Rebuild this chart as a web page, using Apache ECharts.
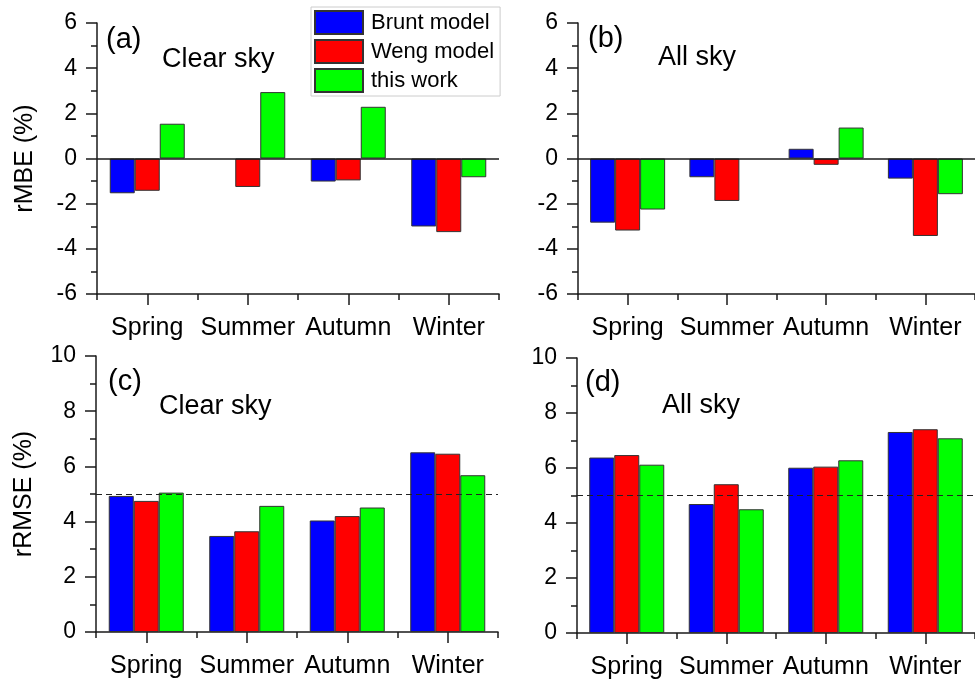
<!DOCTYPE html>
<html>
<head>
<meta charset="utf-8">
<script src="https://cdn.jsdelivr.net/npm/echarts@6/dist/echarts.min.js"></script>
<style>
html,body{margin:0;padding:0;background:#fff;}
#chart{width:975px;height:681px;}
</style>
</head>
<body>
<div id="chart"></div>
<script>
const categories = ['Spring', 'Summer', 'Autumn', 'Winter'];
const seriesNames = ['Brunt model', 'Weng model', 'this work'];
const seriesColors = ['#0000FF', '#FF0000', '#00FF00'];

// (a) rMBE, clear sky
const mbeClearBrunt = [-1.54, null, -1.02, -3.01];
const mbeClearWeng  = [-1.43, -1.26, -0.97, -3.26];
const mbeClearThis  = [1.54, 2.94, 2.29, -0.83];
// (b) rMBE, all sky
const mbeAllBrunt = [-2.84, -0.83, 0.43, -0.89];
const mbeAllWeng  = [-3.19, -1.88, -0.28, -3.43];
const mbeAllThis  = [-2.26, null, 1.37, -1.58];
// (c) rRMSE, clear sky
const rmseClearBrunt = [4.93, 3.48, 4.04, 6.51];
const rmseClearWeng  = [4.75, 3.65, 4.20, 6.46];
const rmseClearThis  = [5.05, 4.57, 4.51, 5.68];
// (d) rRMSE, all sky
const rmseAllBrunt = [6.38, 4.69, 6.01, 7.31];
const rmseAllWeng  = [6.47, 5.41, 6.05, 7.41];
const rmseAllThis  = [6.12, 4.50, 6.28, 7.08];

const mbeRange = [-6, 6];
const rmseRange = [0, 10];
const tickStep = 2;
const zeroLine = 0;
const refLine = 5;

const panelLetters = ['(a)', '(b)', '(c)', '(d)'];
const panelTitles = ['Clear sky', 'All sky', 'Clear sky', 'All sky'];
const yNames = ['rMBE (%)', '', 'rRMSE (%)', ''];

const FONT = '"Liberation Sans", Arial, sans-serif';

const grids = [
  {left: 97, right: 476, top: 23, bottom: 387},
  {left: 578, right: -4, top: 23, bottom: 387},
  {left: 96, right: 477, top: 356, bottom: 49},
  {left: 577, right: -4, top: 358, bottom: 48}
];

const panelData = [
  [mbeClearBrunt, mbeClearWeng, mbeClearThis],
  [mbeAllBrunt, mbeAllWeng, mbeAllThis],
  [rmseClearBrunt, rmseClearWeng, rmseClearThis],
  [rmseAllBrunt, rmseAllWeng, rmseAllThis]
];
const ranges = [mbeRange, mbeRange, rmseRange, rmseRange];
const refs = [zeroLine, zeroLine, refLine, refLine];

const axisLineStyle = {color: '#1a1a1a', width: 1.5};

const xAxes = [];
const yAxes = [];
const series = [];
grids.forEach((g, i) => {
  xAxes.push({
    type: 'category', gridIndex: i, data: categories, position: 'bottom',
    boundaryGap: true,
    axisLine: {show: true, onZero: false, lineStyle: axisLineStyle},
    axisTick: {show: true, alignWithLabel: true, length: 11, lineStyle: axisLineStyle},
    axisLabel: {show: true, fontSize: 25, fontFamily: FONT, color: '#000', margin: 22, interval: 0},
    splitLine: {show: false}
  });
  xAxes.push({
    type: 'category', gridIndex: i, data: categories, position: 'bottom',
    boundaryGap: true,
    axisLine: {show: false, onZero: false},
    axisTick: {show: true, interval: 0, alignWithLabel: false, length: 6, lineStyle: axisLineStyle},
    axisLabel: {show: false},
    splitLine: {show: false}
  });
  yAxes.push({
    type: 'value', gridIndex: i, min: ranges[i][0], max: ranges[i][1], interval: tickStep,
    name: yNames[i], nameLocation: 'middle', nameGap: 59,
    nameTextStyle: {fontSize: 25, fontFamily: FONT, color: '#000'},
    axisLine: {show: true, onZero: false, lineStyle: axisLineStyle},
    axisTick: {show: true, length: 11, lineStyle: axisLineStyle},
    minorTick: {show: true, splitNumber: 2, length: 6, lineStyle: axisLineStyle},
    axisLabel: {fontSize: 23, fontFamily: FONT, color: '#000', margin: 20},
    splitLine: {show: false},
    minorSplitLine: {show: false}
  });
  panelData[i].forEach((arr, k) => {
    const s = {
      type: 'bar', name: seriesNames[k], xAxisIndex: 2 * i, yAxisIndex: i,
      data: arr, barWidth: 25, barGap: '0%',
      itemStyle: {color: seriesColors[k], borderColor: '#333', borderWidth: 1},
      emphasis: {disabled: true},
      animation: false
    };
    if (k === 0) {
      const dashed = i >= 2;
      s.markLine = {
        silent: true, symbol: ['none', 'none'], animation: false,
        label: {show: false},
        lineStyle: dashed ? {color: '#222', type: [6, 4], width: 1} : {color: '#1a1a1a', type: 'solid', width: 1.5},
        data: [{yAxis: refs[i]}]
      };
    }
    series.push(s);
  });
});

const graphics = [];
const letterPos = [[106, 40], [588, 39], [108, 382], [585, 383]];
const titlePos = [[162, 60], [658, 58], [159, 407], [662, 406]];
for (let i = 0; i < 4; i++) {
  graphics.push({type: 'text', x: letterPos[i][0], y: letterPos[i][1],
    style: {text: panelLetters[i], font: '29px ' + FONT, fill: '#000', verticalAlign: 'middle', align: 'left'}});
  graphics.push({type: 'text', x: titlePos[i][0], y: titlePos[i][1],
    style: {text: panelTitles[i], font: '27px ' + FONT, fill: '#000', verticalAlign: 'middle', align: 'left'}});
}

const chart = echarts.init(document.getElementById('chart'), null, {renderer: 'canvas'});
chart.setOption({
  backgroundColor: '#fff',
  animation: false,
  grid: grids,
  xAxis: xAxes,
  yAxis: yAxes,
  legend: {
    data: seriesNames.map(n => ({name: n, icon: 'rect'})), orient: 'vertical', left: 311, top: 7,
    itemWidth: 48, itemHeight: 23, itemGap: 4,
    padding: [3, 6, 3, 3],
    borderColor: '#cccccc', borderWidth: 1,
    textStyle: {fontSize: 22, fontFamily: FONT, color: '#000', padding: [0, 0, 0, 3]},
    selectedMode: false
  },
  series: series,
  graphic: graphics
});
</script>
</body>
</html>
